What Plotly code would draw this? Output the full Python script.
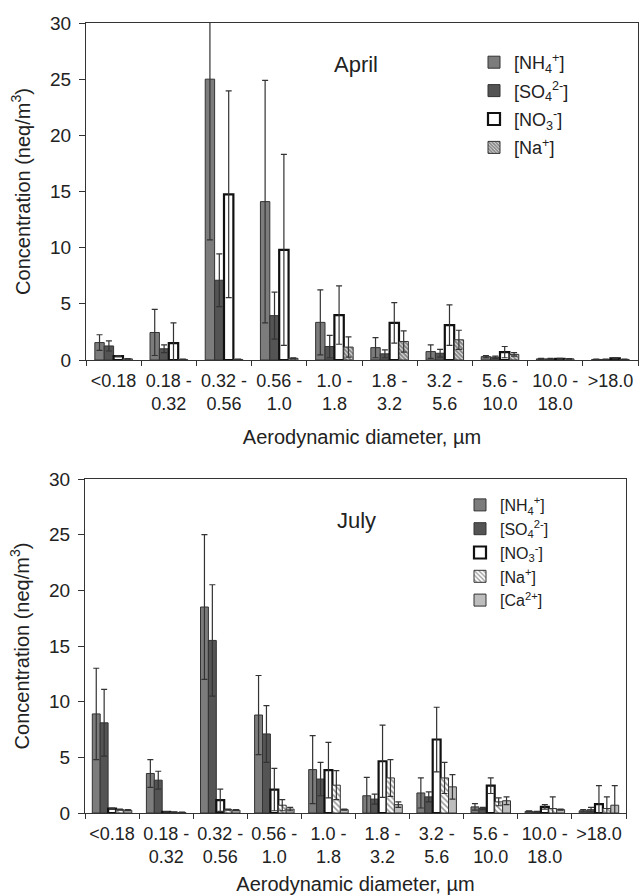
import plotly.graph_objects as go

categories = ["<0.18", "0.18 -<br>0.32", "0.32 -<br>0.56", "0.56 -<br>1.0", "1.0 -<br>1.8",
              "1.8 -<br>3.2", "3.2 -<br>5.6", "5.6 -<br>10.0", "10.0 -<br>18.0", ">18.0"]

# April
nh4_apr = [1.55, 2.45, 25.0, 14.1, 3.35, 1.1, 0.75, 0.3, 0.1, 0.05]
nh4_apr_err = [0.7, 2.05, 14.3, 10.8, 2.9, 0.9, 0.6, 0.1, 0.05, 0.02]
so4_apr = [1.25, 1.0, 7.1, 3.95, 1.2, 0.55, 0.6, 0.25, 0.1, 0.05]
so4_apr_err = [0.45, 0.35, 2.35, 2.1, 1.0, 0.35, 0.35, 0.1, 0.05, 0.02]
no3_apr = [0.35, 1.5, 14.75, 9.8, 4.0, 3.3, 3.1, 0.7, 0.1, 0.15]
no3_apr_err = [0.05, 1.8, 9.2, 8.5, 2.6, 1.8, 1.8, 0.5, 0.05, 0.05]
na_apr = [0.1, 0.05, 0.05, 0.15, 1.15, 1.65, 1.8, 0.5, 0.1, 0.05]
na_apr_err = [0.02, 0.02, 0.02, 0.05, 0.9, 0.95, 0.85, 0.15, 0.03, 0.02]

# July
nh4_jul = [8.9, 3.55, 18.5, 8.8, 3.9, 1.55, 1.8, 0.55, 0.15, 0.2]
nh4_jul_err = [4.1, 1.25, 6.5, 3.55, 3.05, 1.65, 1.35, 0.3, 0.05, 0.1]
so4_jul = [8.1, 2.95, 15.5, 7.1, 3.05, 1.25, 1.45, 0.4, 0.1, 0.3]
so4_jul_err = [3.0, 0.8, 5.0, 2.55, 1.5, 0.45, 0.45, 0.1, 0.05, 0.2]
no3_jul = [0.4, 0.1, 1.15, 2.1, 3.85, 4.65, 6.6, 2.45, 0.55, 0.8]
no3_jul_err = [0.05, 0.03, 1.0, 1.9, 2.5, 3.25, 2.9, 0.7, 0.2, 1.65]
na_jul = [0.3, 0.08, 0.3, 0.7, 2.5, 3.15, 3.15, 1.0, 0.4, 0.4]
na_jul_err = [0.05, 0.02, 0.05, 0.5, 1.3, 1.65, 1.4, 0.35, 1.05, 1.05]
ca_jul = [0.25, 0.05, 0.25, 0.35, 0.3, 0.75, 2.35, 1.1, 0.3, 0.7]
ca_jul_err = [0.05, 0.02, 0.05, 0.15, 0.05, 0.25, 1.1, 0.35, 0.05, 1.75]

name_nh4 = "[NH<sub>4</sub><sup>+</sup>]"
name_so4 = "[SO<sub>4</sub><sup>2-</sup>]"
name_no3 = "[NO<sub>3</sub><sup>-</sup>]"
name_na = "[Na<sup>+</sup>]"
name_ca = "[Ca<sup>2+</sup>]"

FONT = "Liberation Sans, Arial, sans-serif"
TXT = "#222222"
EDGE = "#333333"

fig = go.Figure()


def add_bar(y, err, name, xa, ya, legend, offset, width, fill, line_w, line_c, pattern=None):
    marker = dict(color=fill, line=dict(color=line_c, width=line_w))
    if pattern:
        marker["pattern"] = pattern
    fig.add_trace(go.Bar(
        x=categories, y=y, name=name, xaxis=xa, yaxis=ya, legend=legend,
        legendgroup=legend + name,
        offset=offset, width=width, marker=marker,
        error_y=dict(type="data", array=err, symmetric=True, color=EDGE, thickness=1.2, width=3),
    ))


# April traces
wa = 0.17
sa = -0.34
add_bar(nh4_apr, nh4_apr_err, name_nh4, "x", "y", "legend", sa + 0 * wa, wa, "#7c7c7c", 1, EDGE)
add_bar(so4_apr, so4_apr_err, name_so4, "x", "y", "legend", sa + 1 * wa, wa, "#545454", 1, EDGE)
add_bar(no3_apr, no3_apr_err, name_no3, "x", "y", "legend", sa + 2 * wa, wa, "#ffffff", 2.2, "#111111")
add_bar(na_apr, na_apr_err, name_na, "x", "y", "legend", sa + 3 * wa, wa, "#ffffff", 1, EDGE,
        pattern=dict(shape="\\", fgcolor="#111111", bgcolor="#ffffff", size=3, solidity=0.75))

# July traces
wj = 0.146
sj = -0.365
add_bar(nh4_jul, nh4_jul_err, name_nh4, "x2", "y2", "legend2", sj + 0 * wj, wj, "#7c7c7c", 1, EDGE)
add_bar(so4_jul, so4_jul_err, name_so4, "x2", "y2", "legend2", sj + 1 * wj, wj, "#545454", 1, EDGE)
add_bar(no3_jul, no3_jul_err, name_no3, "x2", "y2", "legend2", sj + 2 * wj, wj, "#ffffff", 2.2, "#111111")
add_bar(na_jul, na_jul_err, name_na, "x2", "y2", "legend2", sj + 3 * wj, wj, "#ffffff", 1, EDGE,
        pattern=dict(shape="\\", fgcolor="#333333", bgcolor="#ffffff", size=4, solidity=0.4))
add_bar(ca_jul, ca_jul_err, name_ca, "x2", "y2", "legend2", sj + 4 * wj, wj, "#bdbdbd", 1, EDGE)

W, H = 639, 895

xaxis_common = dict(
    type="category", tickson="boundaries", ticks="outside", ticklen=5, tickcolor=EDGE,
    showline=True, linecolor=EDGE, linewidth=1, mirror=True, showgrid=False,
    tickangle=0, ticklabelstandoff=4,
    tickfont=dict(family=FONT, size=18, color=TXT), automargin=False,
    title=dict(text="Aerodynamic diameter, µm", font=dict(family=FONT, size=20, color=TXT), standoff=16),
)
yaxis_common = dict(
    range=[0, 30], dtick=5, ticks="outside", ticklen=6, tickcolor=EDGE,
    showline=True, linecolor=EDGE, linewidth=1, mirror=True, showgrid=False, zeroline=False,
    ticklabelstandoff=4,
    tickfont=dict(family=FONT, size=19, color=TXT), automargin=False,
    title=dict(text="Concentration (neq/m<sup>3</sup>)", font=dict(family=FONT, size=20, color=TXT), standoff=14),
)

fig.update_layout(
    width=W, height=H,
    margin=dict(l=0, r=0, t=0, b=0),
    paper_bgcolor="white", plot_bgcolor="white",
    font=dict(family=FONT, color=TXT),
    barmode="group",
    showlegend=True,
    xaxis=dict(xaxis_common, domain=[86 / W, 638 / W], anchor="y"),
    yaxis=dict(yaxis_common, domain=[1 - 360 / H, 1 - 23 / H], anchor="x"),
    xaxis2=dict(xaxis_common, domain=[85 / W, 626 / W], anchor="y2"),
    yaxis2=dict(yaxis_common, domain=[1 - 813 / H, 1 - 479 / H], anchor="x2"),
    legend=dict(x=474 / W, y=1 - 44 / H, xanchor="left", yanchor="top",
                font=dict(family=FONT, size=18, color=TXT), bgcolor="rgba(0,0,0,0)",
                itemwidth=30, tracegroupgap=2),
    legend2=dict(x=460 / W, y=1 - 488 / H, xanchor="left", yanchor="top",
                 font=dict(family=FONT, size=16, color=TXT), bgcolor="rgba(0,0,0,0)",
                 itemwidth=30, tracegroupgap=0),
    annotations=[
        dict(text="April", x=356 / W, y=1 - 50 / H, xref="paper", yref="paper",
             showarrow=False, font=dict(family=FONT, size=22, color=TXT)),
        dict(text="July", x=356 / W, y=1 - 520 / H, xref="paper", yref="paper",
             showarrow=False, font=dict(family=FONT, size=22, color=TXT)),
    ],
)

fig.write_html("out.html", config={"displayModeBar": False},
               post_script="document.body.style.margin='0';document.body.style.overflow='hidden';")
